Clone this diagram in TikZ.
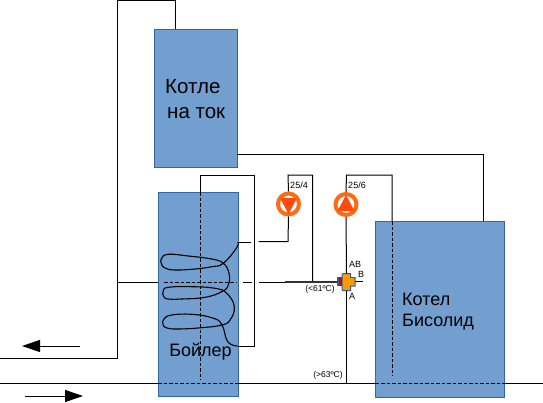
\documentclass[tikz,border=0pt]{standalone}
\usepackage{fontspec}
\setmainfont{Liberation Sans}
\usetikzlibrary{arrows.meta,calc}
\definecolor{tankfill}{HTML}{729FCF}
\definecolor{tankline}{HTML}{3465A4}
\definecolor{pumpring}{HTML}{FF6A13}
\definecolor{pumphead}{HTML}{FF4A0E}
\definecolor{valvefill}{HTML}{FF9900}
\definecolor{valveline}{HTML}{2A6099}

\begin{document}
\begin{tikzpicture}[
  x=1pt,y=-1pt,
  tank/.style={draw=tankline,fill=tankfill,line width=0.9pt,inner sep=0pt,anchor=north west},
  pipe/.style={draw=black,line width=1pt},
  hidden/.style={draw=black,line width=0.9pt,dash pattern=on 3.5pt off 2pt},
  flow/.style={-{Triangle[length=18pt,width=12pt]},draw=black,line width=1pt},
  pumpbody/.style={circle,draw=pumpring,fill=white,line width=4pt,minimum size=21pt,inner sep=0pt},
  big/.style={font=\fontsize{20.5}{24.5}\selectfont,inner sep=0pt,align=left},
  mid/.style={font=\fontsize{18}{21.5}\selectfont,inner sep=0pt,align=left},
  small/.style={font=\fontsize{9}{11}\selectfont,inner sep=0pt}
]
  \useasboundingbox (0,0) rectangle (543,402);
  \node[tank,minimum width=83pt,minimum height=138pt] (kotle) at (154.2,29) {};
  \node[tank,minimum width=79.5pt,minimum height=204pt] (bojler) at (158,192.3) {};
  \node[tank,minimum width=129.2pt,minimum height=175.5pt] (kotel) at (375.1,221) {};

  \node[big,anchor=west] (kotletext) at (165,99) {Котле\\\hspace*{2pt}на ток};
  \node[mid,anchor=center] (bojlertext) at (200.5,352) {Бойлер};
  \node[mid,anchor=west] (koteltext) at (402,311.5) {Котел\\Бисолид};

  \coordinate (outleft) at (0,358);
  \coordinate (outcorner) at (117.5,358);
  \coordinate (outtop) at (117.5,0.5);
  \coordinate (kotletop) at (175.5,0.5);
  \coordinate (kotlein) at (175.5,29);
  \coordinate (kotleout) at (237,154.5);
  \coordinate (kotelcorner) at (483.7,154.5);
  \coordinate (kotelin) at (483.7,221);
  \draw[pipe] (outleft) -- (outcorner) -- (outtop) -- (kotletop) -- (kotlein);
  \draw[pipe] (kotleout) -- (kotelcorner) -- (kotelin);

  % bojler return
  \coordinate (rettop) at (200.5,175);
  \coordinate (retin) at (200.5,192);
  \coordinate (retend) at (200.5,380);
  \coordinate (retright) at (254.5,175);
  \coordinate (coilbot) at (254.5,346);
  \coordinate (coilout) at (238,346);
  \draw[pipe] (retin) -- (rettop) -- (retright) -- (coilbot) -- (coilout);
  \draw[hidden] (retin) -- (retend);

  % coil
  \draw[line width=1.1pt,black] plot[smooth,tension=0.75] coordinates {
    (237.7,242.3) (236.7,247.7) (223.3,263.3) (211.7,266.7) (195,269) (175,270) (165,268) (161.5,264)
    (161.5,258.5) (168.3,254.3) (188.3,256) (211.7,259) (223.3,263.3) (229,273.3) (228.3,285)
    (221.7,291.7) (205,297.3) (181.7,299) (168,299) (163.5,296) (163.3,291) (168.3,287.3) (191.7,286.7)
    (215,288.3) (226.7,293.3) (234.3,306.7) (230,320) (221.7,325) (201.7,327.7) (178.3,329)
    (167,328) (163,324.5) (164,319) (171.7,315) (191.7,314.3) (211.7,317.7) (221.7,324.3) (227.7,341.7)
    (237.7,346)};

  % pumps
  \node[pumpbody] (pumpfour) at (288.5,204) {};
  \node[pumpbody] (pumpsix) at (346,204.5) {};
  \fill[pumphead] (280,198) -- (297,198) -- (288.5,214) -- cycle;
  \fill[pumphead] (337.5,211) -- (354.5,211) -- (346,195) -- cycle;

  % valve
  \coordinate (valvetop) at (346.5,273.5);
  \draw[draw=valveline,fill=valvefill,line width=1pt] (343,273.5) -- (350.7,273.5) -- (350.7,277.7) -- (355,277.7)
    -- (355,286) -- (350.7,286) -- (350.7,290.7) -- (343,290.7) -- (342,289.7) -- (342,274.5) -- cycle;
  \fill[valveline] (336.8,277.2) rectangle (339,285.8);
  \fill[red!85!black] (339,277.2) rectangle (341.5,285.8);

  \coordinate (coilin) at (238,242);
  \coordinate (coilgap) at (251,242);
  \coordinate (pumpfourlow) at (258.5,241.5);
  \coordinate (pumpfourcorner) at (288,241.5);
  \coordinate (pumpfourtop) at (288,175);
  \coordinate (bypass) at (312.5,175);
  \coordinate (bypasslow) at (312.5,282);
  \draw[pipe] (coilin) -- (coilgap);
  \draw[pipe] (pumpfourlow) -- (pumpfourcorner) -- (pumpfour.south);
  \draw[pipe] (pumpfour.north) -- (pumpfourtop) -- (bypass) -- (bypasslow);

  \coordinate (feedleft) at (117.5,282);
  \coordinate (feedin) at (158,282);
  \coordinate (dashstart) at (164,282.5);
  \coordinate (dashend) at (236,282.5);
  \coordinate (feedout) at (243,282);
  \coordinate (feedgap) at (252,282);
  \coordinate (feednext) at (259,282);
  \coordinate (feedthick) at (285,282);
  \coordinate (feedvalve) at (337,282);
  \draw[pipe] (feedleft) -- (feedin);
  \draw[hidden] (dashstart) -- (dashend);
  \draw[pipe] (feedout) -- (feedgap);
  \draw[pipe] (feednext) -- (feedthick);
  \draw[pipe,line width=1.5pt,draw=black!80] (feedthick) -- (feedvalve);

  \coordinate (sixtop) at (346.5,175);
  \coordinate (sixright) at (392,175);
  \coordinate (kotelret) at (392,221);
  \coordinate (kotelretend) at (392,376);
  \coordinate (valvebot) at (346.5,291);
  \coordinate (sixbot) at (346.5,383);
  \coordinate (valveb) at (355,281.5);
  \coordinate (valvebend) at (363,281.5);
  \draw[pipe] (pumpsix.north) -- (sixtop) -- (sixright) -- (kotelret);
  \draw[hidden] (kotelret) -- (kotelretend);
  \draw[pipe] (pumpsix.south) -- (valvetop);
  \draw[pipe] (valvebot) -- (sixbot);
  \draw[pipe] (valveb) -- (valvebend);

  % bottom line
  \coordinate (lineleft) at (0,383);
  \coordinate (bojlerleft) at (158,383);
  \coordinate (bojlerright) at (238,383);
  \coordinate (kotelleft) at (375.5,383);
  \coordinate (kotelright) at (504.5,383);
  \coordinate (lineright) at (543,383);
  \draw[pipe] (lineleft) -- (bojlerleft);
  \draw[hidden] (bojlerleft) -- (bojlerright);
  \draw[pipe] (bojlerright) -- (kotelleft);
  \draw[hidden] (kotelleft) -- (kotelright);
  \draw[pipe] (kotelright) -- (lineright);

  % flow arrows
  \coordinate (backstart) at (80,346);
  \coordinate (backend) at (22,346);
  \coordinate (forthstart) at (25,396);
  \coordinate (forthend) at (83,396);
  \draw[flow] (backstart) -- (backend);
  \draw[flow] (forthstart) -- (forthend);

  \node[small] (fourlabel) at (299,185) {25/4};
  \node[small] (sixlabel) at (357,185) {25/6};
  \node[small] (ablabel) at (355,264.5) {AB};
  \node[small] (blabel) at (361,274) {B};
  \node[small] (alabel) at (352,296) {A};
  \node[small,font=\fontsize{8.5}{10}\selectfont] (lowtemp) at (320,289) {(<61ºC)};
  \node[small,font=\fontsize{8.5}{10}\selectfont] (hightemp) at (328,375) {(>63ºC)};
\end{tikzpicture}
\end{document}
